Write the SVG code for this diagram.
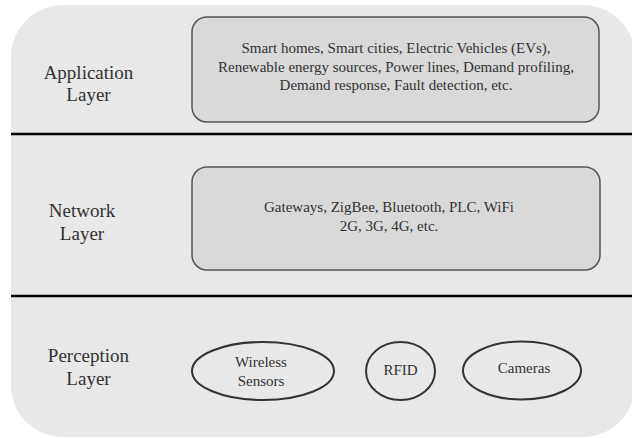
<svg xmlns="http://www.w3.org/2000/svg" width="632" height="438" viewBox="0 0 632 438">
<style>
text{font-family:'Liberation Serif','Tinos','Times New Roman','DejaVu Serif',serif;fill:#333;text-anchor:middle}
.lbl{font-size:19px}
.box{fill:#d9d9d9;stroke:#555;stroke-width:1.5}
.small{font-size:15px}
.ell{fill:none;stroke:#333;stroke-width:2}
.sep{stroke:#000;stroke-width:2.5}
</style>
<rect x="11" y="5" width="624" height="432" rx="52" ry="52" fill="#e8e8e8"/>
<g id="separators">
<line class="sep" x1="11" y1="134" x2="632" y2="134"/>
<line class="sep" x1="11" y1="296" x2="632" y2="296"/>
</g>
<g id="application-layer">
<text class="lbl" x="88.5" y="78.5">Application</text>
<text class="lbl" x="88.5" y="101">Layer</text>
</g>
<g id="application-box">
<rect class="box" x="192" y="17" width="407" height="105" rx="15"/>
<text class="small" x="396" y="53">Smart homes, Smart cities, Electric Vehicles (EVs),</text>
<text class="small" x="396" y="71.5">Renewable energy sources, Power lines, Demand profiling,</text>
<text class="small" x="396" y="90">Demand response, Fault detection, etc.</text>
</g>
<g id="network-layer">
<text class="lbl" x="82" y="217">Network</text>
<text class="lbl" x="82" y="240">Layer</text>
</g>
<g id="network-box">
<rect class="box" x="192" y="167" width="408" height="103" rx="15"/>
<text class="small" x="389" y="212">Gateways, ZigBee, Bluetooth, PLC, WiFi</text>
<text class="small" x="389" y="231">2G, 3G, 4G, etc.</text>
</g>
<g id="perception-layer">
<text class="lbl" x="88.5" y="362">Perception</text>
<text class="lbl" x="88.5" y="385">Layer</text>
</g>
<g id="wireless-sensors">
<ellipse class="ell" cx="263" cy="371" rx="71" ry="29"/>
<text class="small" x="261" y="367">Wireless</text>
<text class="small" x="261" y="386">Sensors</text>
</g>
<g id="rfid">
<ellipse class="ell" cx="400.5" cy="371" rx="34.5" ry="29"/>
<text class="small" x="400.5" y="374.5">RFID</text>
</g>
<g id="cameras">
<ellipse class="ell" cx="522" cy="370.5" rx="59" ry="29"/>
<text class="small" x="524" y="373">Cameras</text>
</g>
<g id="connectors"/>
</svg>
